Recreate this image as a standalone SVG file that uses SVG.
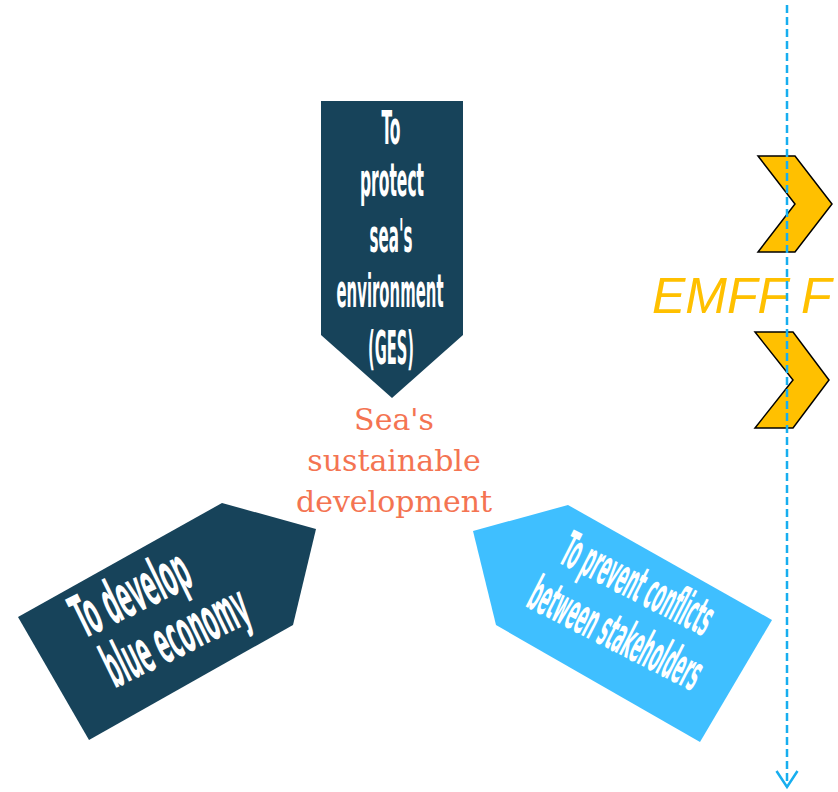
<svg xmlns="http://www.w3.org/2000/svg" width="838" height="792" viewBox="0 0 838 792">
  <defs>
    <style>
      .navy { fill: #17435A; }
      .sky { fill: #3FBFFF; }
      .band { fill: #FFFFFF; font-family: 'DejaVu Sans Condensed', 'DejaVu Sans', sans-serif; font-weight: bold; }
      .core { fill: #F47452; font-family: 'DejaVu Serif', 'Liberation Serif', serif; font-size: 30px; text-anchor: middle; }
      .chev { fill: #FFC000; stroke: #000000; stroke-width: 1.5; stroke-linejoin: miter; }
      .emff { fill: #FFC000; font-family: 'Liberation Sans', Arial, sans-serif; font-style: italic; font-size: 50px; }
      .dash { stroke: #17AEEF; stroke-width: 2.5; stroke-dasharray: 8 4; fill: none; }
    </style>
    <marker id="vee" markerWidth="22" markerHeight="24" refX="17" refY="12" orient="auto" markerUnits="userSpaceOnUse">
      <path d="M1,1.5 L17,12 L1,22.5" fill="none" stroke="#17AEEF" stroke-width="2.5"/>
    </marker>
  </defs>
  <rect width="838" height="792" fill="#FFFFFF"/>

  <g id="protect">
    <polygon class="navy" points="321,101 463,101 463,335 392,398 321,335"/>
    <g class="band" font-size="47" text-anchor="middle">
      <text x="391" y="144" textLength="19" lengthAdjust="spacingAndGlyphs">To</text>
      <text x="392" y="196" textLength="64" lengthAdjust="spacingAndGlyphs">protect</text>
      <text x="391" y="252" textLength="43" lengthAdjust="spacingAndGlyphs">sea's</text>
      <text x="390" y="307" textLength="107" lengthAdjust="spacingAndGlyphs">environment</text>
      <text x="391" y="364" textLength="46" lengthAdjust="spacingAndGlyphs">(GES)</text>
    </g>
  </g>

  <g id="core">
    <text class="core" x="394" y="430">Sea's</text>
    <text class="core" x="394" y="471">sustainable</text>
    <text class="core" x="394" y="512">development</text>
  </g>

  <g id="blue-economy">
    <polygon class="navy" points="222,503 316,529 293,625 89,740 18,617"/>
    <g class="band" font-size="60" transform="translate(84,639) rotate(-26)">
      <text x="0" y="0" textLength="124" lengthAdjust="spacingAndGlyphs">To develop</text>
      <text x="6" y="58" textLength="155" lengthAdjust="spacingAndGlyphs">blue economy</text>
    </g>
  </g>

  <g id="conflicts">
    <polygon class="sky" points="473,531 568,505 772,620 700,742 496,625"/>
    <g class="band" font-size="50" transform="translate(557,562) rotate(27)">
      <text x="0" y="0" textLength="164" lengthAdjust="spacingAndGlyphs">To prevent conflicts</text>
      <text x="-9" y="54" textLength="188" lengthAdjust="spacingAndGlyphs">between stakeholders</text>
    </g>
  </g>

  <g id="chevron-1">
    <polygon class="chev" points="758,156 795,156 832,204 795,252 758,252 795,204"/>
  </g>
  <g id="chevron-2">
    <polygon class="chev" points="755,332 793,332 829,380 793,428 755,428 793,380"/>
  </g>
  <g id="emff">
    <text class="emff" x="652" y="313">EMFF F</text>
  </g>

  <g id="connectors">
    <line class="dash" x1="787" y1="5" x2="787" y2="787" marker-end="url(#vee)"/>
  </g>
</svg>
